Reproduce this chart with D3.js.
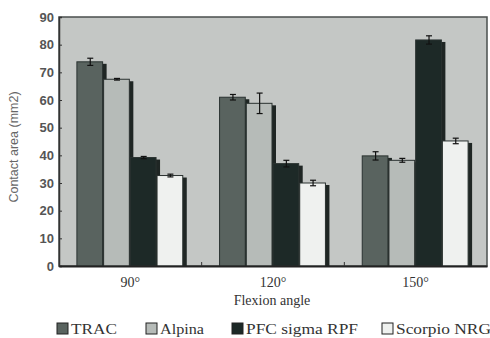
<!doctype html>
<html>
<head>
<script src="https://cdnjs.cloudflare.com/ajax/libs/d3/7.8.5/d3.min.js"></script>
<style>
body { margin: 0; background: #fff; }
</style>
</head>
<body>
<svg id="chart" width="490" height="338"></svg>
<script>
var angles = ["90°", "120°", "150°"];
var series = ["TRAC", "Alpina", "PFC sigma RPF", "Scorpio NRG"];
var yTicks = [0, 10, 20, 30, 40, 50, 60, 70, 80, 90];
// values per series, in angle order
var trac = [73.8, 61, 39.8];
var alpina = [67.5, 58.8, 38.2];
var pfc = [39.2, 37, 81.7];
var scorpio = [32.7, 30, 45.2];
// error (half-length)
var tracErr = [1.3, 1, 1.5];
var alpinaErr = [0.3, 3.7, 0.7];
var pfcErr = [0.4, 1.2, 1.5];
var scorpioErr = [0.5, 1, 1];

var values = [trac, alpina, pfc, scorpio];
var errs = [tracErr, alpinaErr, pfcErr, scorpioErr];
var colors = ["#59635f", "#b6bbb8", "#1d2927", "#eff1ef"];

var margin = {top: 17, left: 59, right: 3, bottom: 72};
var W = 490, H = 338;
var svg = d3.select("#chart");

var x0 = d3.scaleBand().domain(angles).range([margin.left, W - margin.right]);
var x1 = d3.scaleBand().domain(series).range([0, x0.bandwidth()]).paddingOuter(0.67);
var y = d3.scaleLinear().domain([0, 90]).range([H - margin.bottom, margin.top]);

// plot background
svg.append("rect")
  .attr("x", margin.left).attr("y", margin.top)
  .attr("width", W - margin.right - margin.left)
  .attr("height", H - margin.bottom - margin.top)
  .attr("fill", "#c4c7c5")
  .attr("stroke", "#4a4f4d").attr("stroke-width", 1.5);

var rows = [];
angles.forEach(function(a, i) {
  series.forEach(function(s, j) {
    rows.push({angle: a, key: s, v: values[j][i], e: errs[j][i], c: colors[j]});
  });
});

var bars = svg.append("g").selectAll("g").data(rows).enter().append("g");
// shadow on right side
bars.append("rect")
  .attr("x", d => x0(d.angle) + x1(d.key) + 3)
  .attr("y", d => y(d.v) + 2)
  .attr("width", x1.bandwidth())
  .attr("height", d => y(0) - y(d.v) - 2)
  .attr("fill", "#1f2624");
bars.append("rect")
  .attr("x", d => x0(d.angle) + x1(d.key))
  .attr("y", d => y(d.v))
  .attr("width", x1.bandwidth() - 1)
  .attr("height", d => y(0) - y(d.v))
  .attr("fill", d => d.c)
  .attr("stroke", "#2a3230").attr("stroke-width", 1);

// error bars
var eb = svg.append("g").attr("stroke", "#111").attr("stroke-width", 1.2);
rows.forEach(function(d) {
  var cx = x0(d.angle) + x1(d.key) + x1.bandwidth() / 2;
  eb.append("line").attr("x1", cx).attr("x2", cx).attr("y1", y(d.v + d.e)).attr("y2", y(d.v - d.e));
  eb.append("line").attr("x1", cx - 3).attr("x2", cx + 3).attr("y1", y(d.v + d.e)).attr("y2", y(d.v + d.e));
  eb.append("line").attr("x1", cx - 3).attr("x2", cx + 3).attr("y1", y(d.v - d.e)).attr("y2", y(d.v - d.e));
});

// y axis
var yAxis = svg.append("g")
  .attr("transform", "translate(" + margin.left + ",0)")
  .call(d3.axisLeft(y).tickValues(yTicks).tickSize(-3).tickPadding(5));
yAxis.select(".domain").attr("stroke", "#333").attr("stroke-width", 1.5);
yAxis.selectAll(".tick line").attr("stroke", "#333");
yAxis.selectAll("text")
  .attr("font-family", "Liberation Sans, Arial, sans-serif")
  .attr("font-size", 13).attr("font-weight", "bold").attr("fill", "#555");

// x axis
var xAxis = svg.append("g")
  .attr("transform", "translate(0," + (H - margin.bottom) + ")")
  .call(d3.axisBottom(x0).tickSize(0).tickPadding(11));
xAxis.select(".domain").attr("stroke", "#222").attr("stroke-width", 2);
xAxis.selectAll("text")
  .attr("font-family", "Liberation Serif, Times New Roman, serif")
  .attr("font-size", 14).attr("fill", "#333");
// small separator ticks between groups
svg.append("g").selectAll("line").data(angles.slice(1)).enter().append("line")
  .attr("x1", d => x0(d)).attr("x2", d => x0(d))
  .attr("y1", y(0)).attr("y2", y(0) - 4)
  .attr("stroke", "#333");

// axis titles
svg.append("text")
  .attr("transform", "translate(18," + 147 + ") rotate(-90)")
  .attr("text-anchor", "middle")
  .attr("font-family", "Liberation Sans, Arial, sans-serif")
  .attr("font-size", 12.5).attr("fill", "#666")
  .text("Contact area (mm2)");
svg.append("text")
  .attr("x", 272).attr("y", 305)
  .attr("text-anchor", "middle")
  .attr("font-family", "Liberation Serif, Times New Roman, serif")
  .attr("font-size", 14).attr("fill", "#333")
  .text("Flexion angle");

// legend
var legX = [57, 146, 232, 382];
var legW = [46, 44, 112, 95];
var leg = svg.append("g").selectAll("g").data(series).enter().append("g")
  .attr("transform", (d, i) => "translate(" + legX[i] + ",323)");
leg.append("rect")
  .attr("width", 11).attr("height", 11)
  .attr("fill", (d, i) => colors[i])
  .attr("stroke", "#222").attr("stroke-width", 1);
leg.append("text")
  .attr("x", 14).attr("y", 11)
  .attr("font-family", "Liberation Serif, Times New Roman, serif")
  .attr("font-size", 15).attr("fill", "#333")
  .attr("textLength", (d, i) => legW[i]).attr("lengthAdjust", "spacingAndGlyphs")
  .text(d => d);
</script>
</body>
</html>
